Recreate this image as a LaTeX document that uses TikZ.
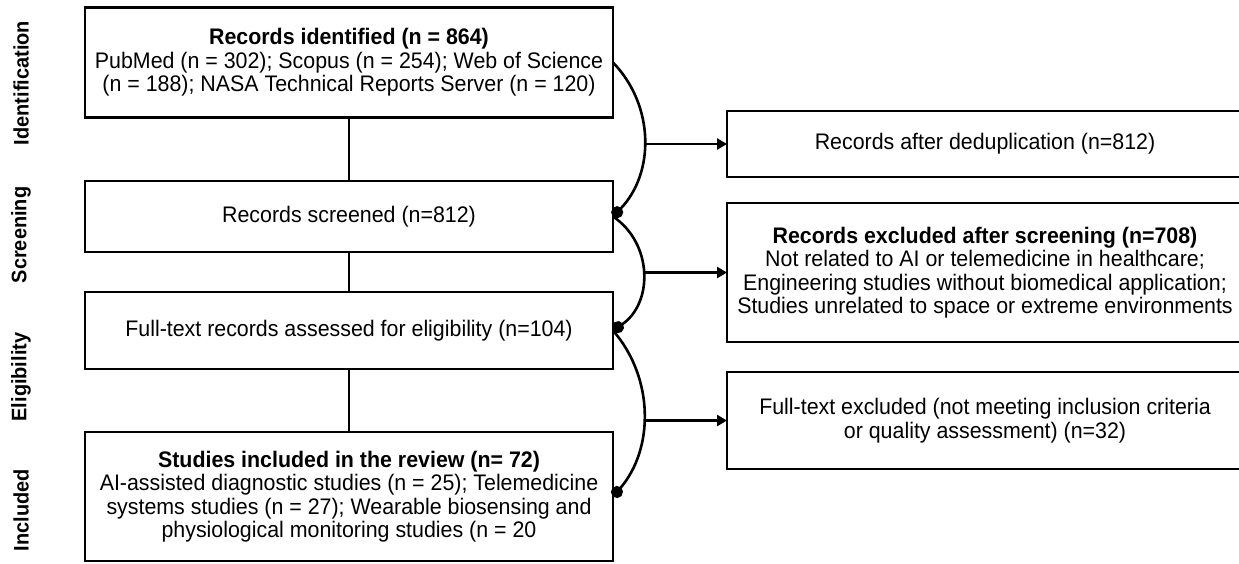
\documentclass[tikz,border=0pt]{standalone}
\usepackage{fontspec}
\setmainfont{Liberation Sans}[FakeStretch=0.95]
\newfontfamily\phasefont{Liberation Sans}[FakeStretch=0.95]
\usetikzlibrary{arrows.meta}

\begin{document}
\begin{tikzpicture}[x=1pt,y=-1pt,
  txt/.style={font=\fontsize{22.5}{23.5}\selectfont},
  stage/.style={draw, line width=2.6pt, inner sep=0pt, outer sep=0pt, align=center, txt},
  leftbox/.style={stage, minimum width=528pt},
  rightbox/.style={stage, minimum width=516pt},
  phase/.style={rotate=90, font=\phasefont\fontsize{21}{22}\selectfont\bfseries},
  link/.style={line width=2.6pt},
  branch/.style={line width=2.6pt, -{Circle[length=12pt]}},
  exitarrow/.style={line width=2.6pt, -{Triangle[length=10pt,width=11pt]}}
]
\useasboundingbox (0,0) rectangle (1239,563);
\fill[white] (0,0) rectangle (1239,563);
\clip (0,0) rectangle (1239,563);

% phase labels
\node[phase] (pid) at (21,83) {Identification};
\node[phase] (psc) at (21,235) {Screening};
\node[phase] (pel) at (21,377) {Eligibility};
\node[phase] (pin) at (21,510) {Included};

% main flow
\node[leftbox, minimum height=110pt] (ident) at (349,62.5)
  {\textbf{Records identified (n = 864)}\\
   PubMed (n = 302); Scopus (n = 254); Web of Science\\
   (n = 188); NASA Technical Reports Server (n = 120)};
\node[leftbox, minimum height=71pt] (screen) at (349,216.5)
  {Records screened (n=812)};
\node[leftbox, minimum height=77pt] (elig) at (349,330.5)
  {Full-text records assessed for eligibility (n=104)};
\node[leftbox, minimum height=129pt] (incl) at (349,496.5)
  {\textbf{Studies included in the review (n= 72)}\\
   AI-assisted diagnostic studies (n = 25); Telemedicine\\
   systems studies (n = 27); Wearable biosensing and\\
   physiological monitoring studies (n = 20};

% side boxes
\node[rightbox, minimum height=66pt] (dedup) at (985,144)
  {Records after deduplication (n=812)};
\node[rightbox, minimum height=139pt] (excl) at (985,272.5)
  {\textbf{Records excluded after screening (n=708)}\\
   Not related to AI or telemedicine in healthcare;\\
   Engineering studies without biomedical application;\\
   Studies unrelated to space or extreme environments};
\node[rightbox, minimum height=97pt] (ftex) at (985,420.5)
  {Full-text excluded (not meeting inclusion criteria\\
   or quality assessment) (n=32)};

% vertical connectors
\draw[link] (ident.south) -- (screen.north);
\draw[link] (screen.south) -- (elig.north);
\draw[link] (elig.south) -- (incl.north);

% curved branches
\draw[branch] (ident.east) to[out=-46,in=46,looseness=1] coordinate[pos=0.5] (m1) (screen.east);
\draw[branch] (screen.east) to[out=-34,in=34,looseness=1.09] coordinate[pos=0.5] (m2) (elig.east);
\draw[branch] (elig.east) to[out=-49,in=49,looseness=0.97] coordinate[pos=0.5] (m3) (incl.east);

% exits to side boxes
\draw[exitarrow] (dedup.west -| m1) -- (dedup.west);
\draw[exitarrow] (excl.west -| m2) -- (excl.west);
\draw[exitarrow] (ftex.west -| m3) -- (ftex.west);
\end{tikzpicture}
\end{document}
